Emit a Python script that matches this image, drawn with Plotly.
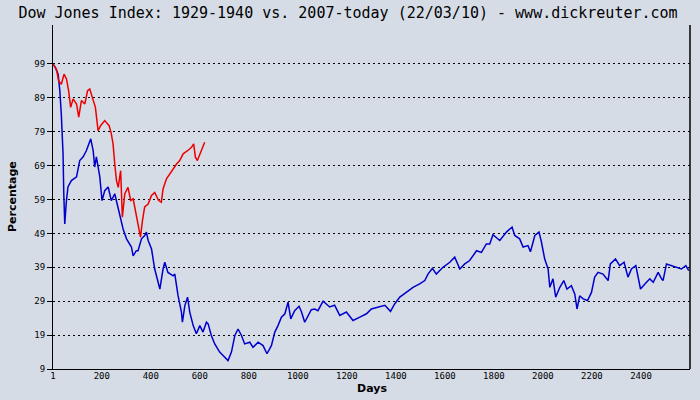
import plotly.graph_objects as go

# 1929-1940 crash, days since peak vs percentage of peak
blue_days = [1, 10, 22, 29, 35, 42, 45, 49, 55, 62, 76, 97, 110, 124, 137, 155, 165, 171, 178, 192,
             201, 212, 226, 239, 253, 273, 287, 301, 321, 328, 341, 348, 362, 375, 382, 389, 403, 416, 437, 450,
             457, 470, 491, 498, 511, 525, 529, 539, 550, 559, 573, 586, 600, 613, 627, 634, 647, 661, 681, 695,
             715, 729, 743, 756, 770, 783, 804, 817, 838, 858, 874, 892, 906, 919, 933, 947, 960, 971, 987, 1005,
             1015, 1028, 1042, 1055, 1069, 1082, 1103, 1130, 1150, 1171, 1198, 1225, 1253, 1280, 1300, 1327, 1355, 1378, 1395, 1416,
             1443, 1470, 1497, 1518, 1531, 1549, 1565, 1592, 1620, 1640, 1661, 1681, 1701, 1729, 1749, 1769, 1783, 1796, 1824, 1851,
             1874, 1885, 1905, 1919, 1939, 1949, 1967, 1984, 1994, 2007, 2021, 2028, 2041, 2052, 2069, 2085, 2098, 2116, 2130, 2139,
             2150, 2164, 2182, 2198, 2211, 2225, 2245, 2266, 2275, 2296, 2313, 2331, 2347, 2361, 2379, 2388, 2398, 2416, 2436, 2450,
             2470, 2484, 2490, 2504, 2524, 2545, 2565, 2583, 2595]
blue_vals = [99, 98, 96, 91, 84, 72.5, 60.7, 51.8, 58, 62.7, 64.6, 65.7, 70.5, 71.6, 73.4, 76.9, 73.4, 68.6, 71.6, 65.7,
             58.7, 61.6, 62.7, 58.7, 60.7, 54.8, 50.3, 47.4, 45, 42.4, 43.9, 43.9, 47.4, 48.4, 49.4, 47, 44.4, 38.5, 32.6, 38.5,
             40.5, 37.5, 36.5, 37, 30.7, 25.8, 22.8, 27.7, 30.2, 25.8, 21.8, 19.4, 21.8, 19.9, 22.8, 22.3, 18.9, 16.4, 14, 13,
             11.5, 14, 18.9, 20.8, 18.9, 16.4, 16.9, 15.4, 16.9, 15.9, 13.5, 15.9, 19.9, 21.8, 24.3, 25.3, 28.7, 23.8, 26.2, 27.5,
             25.8, 22.8, 24.8, 26.5, 26.7, 26.2, 29, 27.3, 27.8, 24.8, 25.8, 23.3, 24.3, 25.3, 26.7, 27.3, 27.8, 26, 28.2, 30.2,
             31.7, 33.1, 34.1, 35.1, 37, 38.7, 37, 39, 40.5, 42, 38.5, 40, 41, 43.9, 43.4, 45.9, 45.9, 48.6, 46.9, 49.4,
             50.9, 48.4, 47.4, 45, 45.4, 43.6, 48.4, 49.4, 46.4, 41.5, 38.5, 33.1, 35.6, 30.2, 33.1, 35.1, 32.6, 33.6, 31.1, 26.7,
             30.6, 29.7, 29.2, 31.6, 36.1, 37.5, 37, 35.1, 40, 41.5, 39.5, 40.5, 36.1, 38.5, 39.5, 36.1, 32.6, 34.1, 35.6, 34.6,
             37.5, 35.6, 35.1, 40, 39.5, 39, 38.5, 39.5, 38]

# 2007-today
red_days = [1, 15, 24, 35, 46, 56, 65, 73, 83, 97, 106, 117, 131, 142, 151, 165, 174, 185, 195, 212,
            230, 239, 246, 253, 260, 267, 277, 284, 294, 307, 318, 328, 337, 348, 358, 366, 375, 389, 403, 416,
            432, 443, 450, 464, 477, 491, 505, 518, 532, 550, 566, 575, 582, 590, 600, 609, 620]
red_vals = [99, 97.5, 94, 93, 96, 94.6, 91, 86.2, 88.7, 87.2, 83.3, 88.2, 87.2, 91.1, 91.6, 88.7, 86.2, 79.3, 80.8, 82.3,
            80.8, 78.4, 75.4, 69.5, 64.6, 62.6, 67.5, 53.8, 60.7, 62.6, 58.7, 59.2, 55.7, 50.8, 47.9, 52.8, 56.8, 57.7, 60.2, 61.1,
            58.7, 58.2, 62.1, 65.1, 66.6, 68, 69.5, 70.5, 72.5, 73.4, 74.4, 75.4, 71.5, 70.5, 72.5, 74, 75.9]

x_ticks = [1, 200, 400, 600, 800, 1000, 1200, 1400, 1600, 1800, 2000, 2200, 2400]
y_ticks = [9, 19, 29, 39, 49, 59, 69, 79, 89, 99]

bg = "#D6DCE6"

fig = go.Figure()
fig.add_trace(go.Scatter(x=blue_days, y=blue_vals, mode="lines",
                         line=dict(color="#0000CC", width=1.5), name="1929-1940"))
fig.add_trace(go.Scatter(x=red_days, y=red_vals, mode="lines",
                         line=dict(color="#EE0000", width=1.5), name="2007-today"))

fig.update_layout(
    width=700, height=400,
    paper_bgcolor=bg, plot_bgcolor=bg,
    showlegend=False,
    margin=dict(l=53, r=10, t=25, b=31),
    title=dict(text="Dow Jones Index: 1929-1940 vs. 2007-today (22/03/10) - www.dickreuter.com",
               x=348 / 700, xanchor="center", y=1 - 13 / 400, yanchor="middle",
               font=dict(family="DejaVu Sans Mono", size=15, color="black")),
    xaxis=dict(
        range=[1, 2600], tickvals=x_ticks, ticktext=[str(v) for v in x_ticks],
        showgrid=False, zeroline=False,
        showline=True, linecolor="black", linewidth=1, mirror=False,
        ticks="", ticklabelstandoff=-2,
        tickfont=dict(family="DejaVu Sans Mono", size=9, color="black"),
    ),
    yaxis=dict(
        range=[9, 110.5], tickvals=y_ticks, ticktext=[str(v) for v in y_ticks],
        showgrid=True, gridcolor="black", gridwidth=1, griddash="2px,3px",
        zeroline=False,
        showline=True, linecolor="black", linewidth=1,
        ticks="outside", ticklen=5, tickcolor="black",
        tickfont=dict(family="DejaVu Sans Mono", size=9, color="black"),
    ),
    annotations=[
        dict(text="<b>Days</b>", xref="paper", yref="paper", x=0.5, y=-(388 - 369) / 344,
             xanchor="center", yanchor="middle", showarrow=False,
             font=dict(family="DejaVu Sans", size=11, color="black")),
        dict(text="<b>Percentage</b>", xref="paper", yref="paper", x=(12 - 53) / 637, y=0.5,
             xanchor="center", yanchor="middle", showarrow=False, textangle=-90,
             font=dict(family="DejaVu Sans", size=11, color="black")),
    ],
)

# right border line
fig.add_shape(type="line", xref="paper", yref="paper", x0=1, x1=1, y0=0, y1=1,
              line=dict(color="black", width=1.5))

# page default margin would push the 700x400 figure off the window
fig.write_html("out.html", config={"displayModeBar": False},
               post_script="document.body.style.margin='0';")
